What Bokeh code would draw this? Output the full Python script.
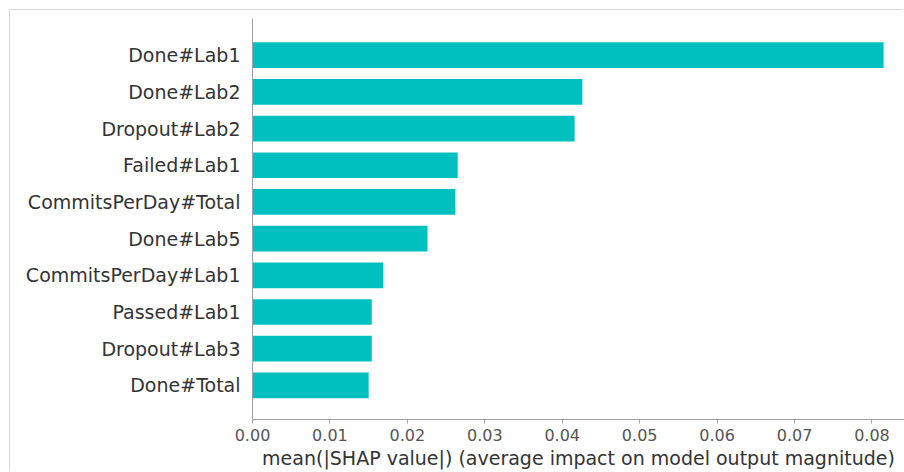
from bokeh.plotting import figure
from bokeh.models import Range1d, FixedTicker, ColumnDataSource, CustomJSTickFormatter
from bokeh.embed import file_html
from bokeh.resources import INLINE

features = ["Done#Lab1", "Done#Lab2", "Dropout#Lab2", "Failed#Lab1", "CommitsPerDay#Total",
            "Done#Lab5", "CommitsPerDay#Lab1", "Passed#Lab1", "Dropout#Lab3", "Done#Total"]
mean_abs_shap = [0.0815, 0.0426, 0.0416, 0.0265, 0.0262, 0.0226, 0.0169, 0.0154, 0.0154, 0.0150]
x_ticks = [0.00, 0.01, 0.02, 0.03, 0.04, 0.05, 0.06, 0.07, 0.08]
x_label = "mean(|SHAP value|) (average impact on model output magnitude)"

n = len(features)
ypos = [n - 1 - i for i in range(n)]
src = ColumnDataSource(dict(y=ypos, v=mean_abs_shap, name=features))

FONT = "DejaVu Sans"
p = figure(width=894, height=462, output_backend="svg", toolbar_location=None,
           x_range=Range1d(0, 0.0842), y_range=Range1d(-0.93, n),
           min_border_left=242, min_border_right=0, min_border_top=8, min_border_bottom=53,
           margin=(10, 0, 0, 10),
           styles={"box-shadow": "-1px -1px 0 #d6d6d6"})
p.hbar(y="y", right="v", left=0, height=0.7, source=src, fill_color="#00bfbf", line_color=None)

p.xgrid.visible = False
p.ygrid.visible = False
p.outline_line_color = None
p.background_fill_color = "white"
p.border_fill_color = "white"

xa = p.xaxis[0]
xa.ticker = FixedTicker(ticks=x_ticks)
xa.formatter = CustomJSTickFormatter(code="return tick.toFixed(2);")
xa.axis_label = x_label
xa.axis_label_text_font = FONT
xa.axis_label_text_font_style = "normal"
xa.axis_label_text_font_size = "19px"
xa.axis_label_text_color = "#333333"
xa.axis_label_standoff = 3
xa.major_label_text_font = FONT
xa.major_label_text_font_size = "16px"
xa.major_label_text_color = "#555555"
xa.major_label_standoff = 5
xa.axis_line_color = "#a0a0a0"
xa.major_tick_line_color = "#a0a0a0"
xa.major_tick_out = 4
xa.major_tick_in = 0
xa.minor_tick_line_color = None

ya = p.yaxis[0]
ya.ticker = FixedTicker(ticks=ypos)
ya.major_label_overrides = {y: f for y, f in zip(ypos, features)}
ya.major_label_text_font = FONT
ya.major_label_text_font_size = "19px"
ya.major_label_text_color = "#333333"
ya.major_label_standoff = 6
ya.major_tick_line_color = None
ya.minor_tick_line_color = None
ya.axis_line_color = "#a0a0a0"

open("out.html", "w").write(file_html(p, INLINE))
